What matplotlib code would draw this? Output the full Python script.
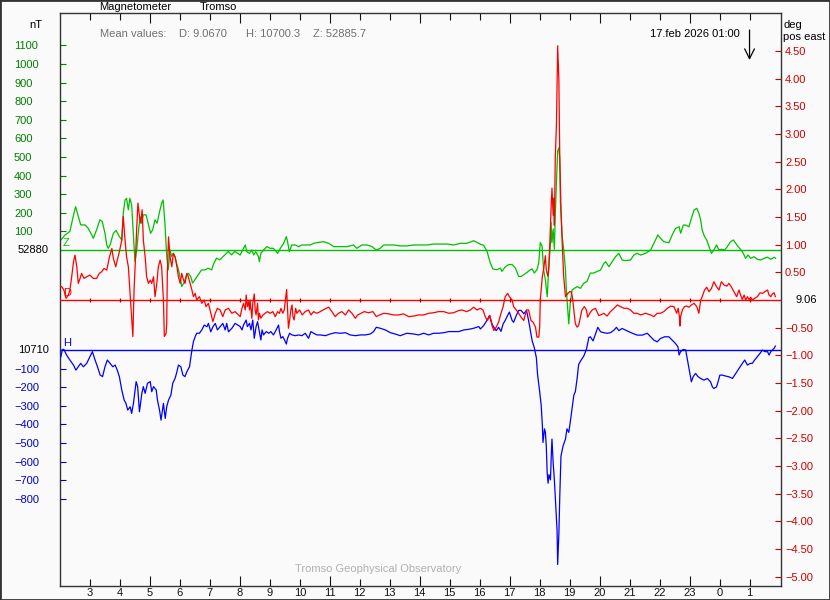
import matplotlib
matplotlib.use("Agg")
import matplotlib.pyplot as plt
from matplotlib.patches import Rectangle

plt.rcParams['font.family'] = ['Liberation Sans', 'DejaVu Sans']

# ---------------- data ----------------
title_left = "Magnetometer"
station = "Tromso"
footer = "Tromso Geophysical Observatory"
mean_D, mean_H, mean_Z = 9.0670, 10700.3, 52885.7
base_Z_label, base_H_label, base_D_label = "52880", "10710", "9.06"
date_label = "17.feb 2026 01:00"
now_hour = 25.0

hour_ticks = list(range(3, 26))
major_hours = [5, 8, 11, 14, 17, 20, 23]
minor_hours = [h for h in hour_ticks if h not in major_hours]

z_tick_vals = [100, 200, 300, 400, 500, 600, 700, 800, 900, 1000, 1100]
h_tick_vals = [-100, -200, -300, -400, -500, -600, -700, -800]
d_tick_vals = [4.5, 4.0, 3.5, 3.0, 2.5, 2.0, 1.5, 1.0, 0.5,
               -0.5, -1.0, -1.5, -2.0, -2.5, -3.0, -3.5, -4.0, -4.5, -5.0]

# Z (nT relative to 52880)
z_hours = [2.03, 2.17, 2.33, 2.44, 2.52, 2.61, 2.69, 2.83, 2.94, 3.06, 3.11, 3.22, 3.33, 3.41, 3.50,
           3.56, 3.61, 3.67, 3.78, 3.87, 3.98, 4.06, 4.11, 4.17, 4.22, 4.28, 4.33, 4.39, 4.44, 4.50,
           4.56, 4.61, 4.67, 4.72, 4.78, 4.87, 4.94, 5.02, 5.09, 5.17, 5.24, 5.31, 5.39, 5.44, 5.50,
           5.56, 5.61, 5.67, 5.72, 5.78, 5.83, 5.89, 5.98, 6.06, 6.13, 6.20, 6.28, 6.36, 6.42, 6.50,
           6.61, 6.72, 6.83, 6.94, 7.06, 7.11, 7.22, 7.33, 7.44, 7.56, 7.61, 7.72, 7.83,
           8.01, 8.12, 8.18, 8.23, 8.32, 8.40, 8.46, 8.53, 8.62, 8.65, 8.70, 8.79, 8.90, 9.01,
           9.12, 9.26, 9.35, 9.46, 9.55, 9.59, 9.65, 9.73, 9.85, 9.96, 10.07, 10.24, 10.35, 10.46,
           10.63, 10.79, 10.96, 11.13, 11.35, 11.57, 11.79, 11.90, 12.07, 12.24, 12.41, 12.55,
           12.68, 12.80, 12.96, 13.13, 13.35, 13.57, 13.80, 14.02, 14.24, 14.46, 14.69, 14.91,
           15.13, 15.36, 15.58, 15.80, 15.97,
           16.02, 16.13, 16.24, 16.35, 16.44, 16.58, 16.69, 16.74, 16.85, 16.97, 17.08, 17.19,
           17.30, 17.38, 17.47, 17.58, 17.69, 17.75, 17.82, 17.91, 17.97, 18.02, 18.08, 18.13,
           18.19, 18.25, 18.30, 18.36, 18.38, 18.41, 18.45, 18.49, 18.52, 18.56, 18.60, 18.64,
           18.67, 18.69, 18.75, 18.80, 18.86, 18.89, 18.94, 18.97, 19.02, 19.08, 19.16, 19.25,
           19.36, 19.47, 19.58, 19.69, 19.80, 19.92,
           20.03, 20.14, 20.20, 20.31, 20.42, 20.53, 20.64, 20.75, 20.86, 21.03, 21.14, 21.25,
           21.37, 21.53, 21.70, 21.81, 21.94, 22.03, 22.14, 22.31, 22.42, 22.53, 22.65, 22.70,
           22.79, 22.87, 22.98, 23.06, 23.15, 23.24, 23.31, 23.37, 23.42, 23.50, 23.57, 23.65,
           23.73, 23.81, 23.90, 23.98, 24.06, 24.17, 24.26, 24.37, 24.46, 24.54, 24.62, 24.70,
           24.79, 24.87, 24.95, 25.04, 25.15, 25.26, 25.37, 25.48, 25.60, 25.71, 25.82, 25.87]
z_nT = [54, 81, 100, 180, 233, 180, 135, 135, 117, 81, 63, 108, 162, 153, 90,
        27, 9, 27, 90, 105, 72, 54, 198, 269, 278, 216, 278, 242, 108, -62,
        1, 90, 180, 144, 189, 189, 144, 90, 108, 162, 144, 198, 251, 269, 144,
        -35, -107, 1, -35, -17, -35, -71, -125, -196, -178, -143, -125, -143, -178, -160,
        -133, -107, -107, -98, -107, -80, -44, -53, -35, -17, -8, -26, -8,
        -27, 9, 27, -9, -18, 0, -27, -9, -36, -63, -18, 0, 18, 9,
        9, -18, 9, 36, 72, 45, -9, 27, 27, 18, 27, 27, 27, 36,
        41, 45, 36, 18, 18, 18, 27, 9, 27, 27, 18, 0,
        9, 27, 27, 27, 22, 22, 27, 27, 27, 32, 32, 32,
        27, 36, 36, 50, 36,
        31, 25, -5, -69, -102, -106, -97, -115, -91, -78, -78, -97,
        -142, -142, -133, -120, -106, -102, -124, -106, -69, 40, 22, -106,
        -160, -251, -106, 40, 149, 40, 113, 4, 186, 368, 532, 550,
        496, 259, 77, 4, -106, -215, -324, -397, -288, -215, -206, -197,
        -206, -179, -169, -124, -124, -115,
        -108, -72, -63, -90, -63, -36, -18, -54, -57, -54, -27, -18,
        -27, -18, 0, 36, 81, 63, 45, 39, 81, 116, 125, 90,
        134, 134, 125, 170, 215, 224, 197, 161, 108, 72, 54, 18,
        -18, 0, 27, 0, 4, 0, 18, 45, 54, 36, 18, 4,
        -18, -45, -27, -45, -36, -50, -54, -45, -39, -50, -39, -45]

# D (degrees relative to 9.06)
d_hours = [2.03, 2.06, 2.13, 2.20, 2.28, 2.33, 2.39, 2.45, 2.50, 2.56, 2.61, 2.67, 2.72, 2.80, 2.89, 3.00,
           3.11, 3.22, 3.31, 3.39, 3.47, 3.56, 3.65, 3.73, 3.78, 3.86, 3.91, 3.98, 4.06, 4.11, 4.17,
           4.22, 4.28, 4.33, 4.39, 4.43, 4.47, 4.52, 4.56, 4.60, 4.65, 4.69, 4.74, 4.78, 4.84, 4.89,
           4.95, 5.01, 5.06, 5.12, 5.17, 5.23, 5.28, 5.34, 5.39, 5.45, 5.48, 5.54, 5.56, 5.58, 5.62,
           5.67, 5.73, 5.78, 5.84, 5.90, 5.95, 6.01, 6.06, 6.12, 6.17, 6.23, 6.28, 6.34, 6.40, 6.45,
           6.51, 6.56, 6.65, 6.73, 6.81, 6.87, 6.95, 7.03, 7.10, 7.18, 7.25, 7.34, 7.43, 7.51, 7.62,
           7.73, 7.84,
           8.01, 8.07, 8.12, 8.18, 8.21, 8.25, 8.29, 8.32, 8.34, 8.40, 8.43, 8.48, 8.51, 8.54, 8.59,
           8.62, 8.65, 8.70, 8.77, 8.84, 8.92, 9.01, 9.10, 9.18, 9.26, 9.32, 9.37, 9.43, 9.48, 9.52,
           9.56, 9.59, 9.62, 9.66, 9.70, 9.74, 9.77, 9.81, 9.86, 9.90, 9.99, 10.08, 10.18, 10.29,
           10.37, 10.46, 10.57, 10.68, 10.81, 10.96, 11.07, 11.18, 11.29, 11.40, 11.52, 11.63,
           11.74, 11.85, 11.93, 12.04, 12.15, 12.29, 12.44, 12.55, 12.66, 12.80, 12.96, 13.13,
           13.30, 13.46, 13.63, 13.80, 13.96, 14.13, 14.30, 14.46, 14.63, 14.80, 14.97, 15.13,
           15.30, 15.41, 15.56, 15.69, 15.80, 15.91,
           16.02, 16.11, 16.19, 16.26, 16.33, 16.41, 16.47, 16.55, 16.63, 16.71, 16.78, 16.85,
           16.93, 16.99, 17.08, 17.13, 17.22, 17.30, 17.38, 17.47, 17.56, 17.63, 17.71, 17.78,
           17.86, 17.91, 17.97, 18.00, 18.02, 18.06, 18.09, 18.13, 18.19, 18.22, 18.27, 18.30,
           18.34, 18.38, 18.41, 18.45, 18.47, 18.49, 18.52, 18.56, 18.58, 18.60, 18.64, 18.67,
           18.71, 18.75, 18.80, 18.86, 18.94, 19.00, 19.05, 19.09, 19.14, 19.19, 19.25, 19.30,
           19.36, 19.41, 19.49, 19.56, 19.60, 19.67, 19.75, 19.86, 19.97,
           20.03, 20.14, 20.25, 20.36, 20.48, 20.59, 20.70, 20.81, 20.92, 21.03, 21.14, 21.25,
           21.37, 21.53, 21.70, 21.81, 21.92, 22.03, 22.14, 22.26, 22.37, 22.48, 22.57, 22.62,
           22.66, 22.68, 22.70, 22.76, 22.83, 22.90, 22.98, 23.06, 23.15, 23.24, 23.31, 23.37,
           23.42, 23.50, 23.57, 23.65, 23.73, 23.81, 23.90, 23.98, 24.06, 24.15, 24.24, 24.31,
           24.39, 24.48, 24.57, 24.65, 24.70, 24.76, 24.82, 24.87, 24.93, 24.98, 25.04, 25.09,
           25.17, 25.26, 25.35, 25.43, 25.51, 25.60, 25.65, 25.71, 25.76, 25.82, 25.86]
d_deg = [0.24, 0.24, 0.18, 0.03, 0.09, 0.18, 0.42, 0.69, 0.81, 0.60, 0.30, 0.39, 0.48, 0.39, 0.42, 0.45,
         0.39, 0.39, 0.48, 0.51, 0.57, 0.54, 0.78, 0.93, 0.75, 0.60, 0.72, 0.87, 1.08, 1.51, 1.08,
         0.78, 0.60, 0.18, -0.30, -0.66, 0.18, 0.78, 1.32, 1.75, 1.51, 1.39, 1.63, 1.08, 0.78, 0.42,
         0.30, 0.36, 0.30, 0.42, 0.06, 0.30, 0.60, 0.72, 0.60, 0.0, -0.66, -0.60, -0.42, 0.48, 1.14,
         0.78, 0.60, 0.84, 0.78, 0.60, 0.42, 0.30, 0.48, 0.36, 0.30, 0.48, 0.42, 0.30, 0.18, 0.06,
         0.12, 0.0, 0.06, -0.06, 0.0, -0.12, -0.06, -0.24, -0.39, -0.24, -0.15, -0.18, -0.30, -0.18, -0.15,
         -0.24, -0.21,
         -0.30, -0.15, -0.06, -0.18, 0.09, -0.12, -0.03, -0.18, 0.0, -0.33, -0.06, 0.11, -0.18, -0.27, -0.06,
         -0.36, -0.24, -0.33, -0.27, -0.24, -0.21, -0.24, -0.21, -0.30, -0.21, -0.24, -0.15, -0.24, -0.18, 0.0,
         0.19, -0.18, -0.51, -0.36, -0.18, -0.09, -0.30, -0.36, -0.15, -0.24, -0.18, -0.27, -0.21, -0.18,
         -0.27, -0.21, -0.24, -0.21, -0.17, -0.13, -0.21, -0.30, -0.24, -0.21, -0.27, -0.18,
         -0.24, -0.33, -0.27, -0.24, -0.21, -0.23, -0.21, -0.30, -0.27, -0.24, -0.25, -0.27,
         -0.27, -0.25, -0.30, -0.29, -0.27, -0.27, -0.24, -0.23, -0.21, -0.21, -0.24, -0.23,
         -0.19, -0.18, -0.21, -0.18, -0.13, -0.18,
         -0.15, -0.18, -0.31, -0.37, -0.28, -0.46, -0.55, -0.49, -0.40, -0.24, -0.12, 0.06,
         0.12, 0.06, 0.0, -0.12, -0.18, -0.24, -0.31, -0.37, -0.18, -0.18, -0.37, -0.40,
         -0.49, -0.67, -0.67, -0.49, 0.0, 0.24, 0.43, 0.55, 0.80, 0.55, 0.43, 0.55,
         1.04, 1.65, 2.02, 1.53, 1.84, 1.35, 2.57, 3.18, 3.86, 4.59, 3.98, 2.57,
         1.65, 1.04, 0.43, 0.06, 0.12, 0.15, 0.15, 0.06, -0.18, -0.43, -0.49, -0.46,
         -0.31, -0.18, -0.12, -0.18, -0.31, -0.24, -0.18, -0.15, -0.28,
         -0.27, -0.24, -0.29, -0.21, -0.15, -0.09, -0.12, -0.15, -0.15, -0.18, -0.24, -0.24,
         -0.27, -0.24, -0.27, -0.30, -0.24, -0.24, -0.21, -0.15, -0.11, -0.12, -0.24, -0.15,
         -0.30, -0.47, -0.30, -0.18, -0.12, -0.11, -0.13, -0.09, -0.06, -0.12, -0.24, 0.0,
         0.06, 0.18, 0.23, 0.15, 0.21, 0.33, 0.24, 0.18, 0.33, 0.27, 0.25, 0.30,
         0.24, 0.15, 0.06, 0.18, 0.09, 0.01, 0.09, 0.0, 0.06, 0.01, 0.05, 0.0,
         0.03, 0.06, 0.13, 0.12, 0.15, 0.18, 0.09, 0.06, 0.11, 0.13, 0.06]

# H (nT relative to 10710)
h_hours = [2.03, 2.08, 2.13, 2.22, 2.33, 2.45, 2.53, 2.61, 2.69, 2.78, 2.89, 3.00, 3.08, 3.17, 3.25,
           3.34, 3.42, 3.50, 3.58, 3.67, 3.76, 3.84, 3.91, 3.98, 4.06, 4.14, 4.20, 4.26, 4.34, 4.39,
           4.45, 4.54, 4.59, 4.65, 4.73, 4.78, 4.84, 4.92, 5.01, 5.06, 5.12, 5.21, 5.25, 5.32, 5.37,
           5.45, 5.51, 5.56, 5.62, 5.70, 5.76, 5.84, 5.90, 5.95, 6.03, 6.10, 6.17, 6.23, 6.32, 6.40,
           6.45, 6.51, 6.56, 6.65, 6.73, 6.81, 6.90, 6.95, 7.03, 7.10, 7.18, 7.25, 7.34, 7.43, 7.51,
           7.56, 7.62, 7.73, 7.84,
           8.01, 8.07, 8.12, 8.21, 8.25, 8.32, 8.37, 8.43, 8.48, 8.54, 8.59, 8.65, 8.70, 8.74, 8.79,
           8.88, 8.96, 9.03, 9.12, 9.21, 9.29, 9.32, 9.37, 9.43, 9.49, 9.55, 9.59, 9.66, 9.74, 9.85,
           9.96, 10.07, 10.18, 10.29, 10.37, 10.46, 10.57, 10.68, 10.85, 11.01, 11.18, 11.35, 11.52,
           11.68, 11.85, 12.02, 12.18, 12.35, 12.46, 12.55, 12.68, 12.85, 13.02, 13.18, 13.35, 13.57,
           13.80, 13.96, 14.13, 14.30, 14.46, 14.63, 14.80, 14.97, 15.13, 15.30, 15.47, 15.63, 15.80,
           15.97,
           16.02, 16.13, 16.24, 16.33, 16.41, 16.47, 16.55, 16.63, 16.71, 16.78, 16.85, 16.93, 16.99,
           17.08, 17.13, 17.22, 17.30, 17.38, 17.47, 17.56, 17.63, 17.69, 17.75, 17.82, 17.89, 17.93,
           18.00, 18.05, 18.09, 18.11, 18.16, 18.19, 18.22, 18.25, 18.28, 18.31, 18.36, 18.39, 18.41,
           18.45, 18.49, 18.54, 18.58, 18.60, 18.64, 18.67, 18.71, 18.78, 18.86, 18.91, 18.97, 19.02,
           19.08, 19.14, 19.19, 19.25, 19.30, 19.36, 19.47, 19.56, 19.64, 19.69, 19.78, 19.86, 19.94,
           20.03, 20.14, 20.25, 20.36, 20.48, 20.56, 20.64, 20.75, 20.86, 20.98, 21.09, 21.25, 21.42,
           21.59, 21.70, 21.81, 21.92, 22.03, 22.17, 22.31, 22.42, 22.53, 22.61, 22.65, 22.70, 22.79,
           22.87, 22.90, 22.95, 23.01, 23.06, 23.12, 23.20, 23.28, 23.37, 23.48, 23.59, 23.70, 23.76,
           23.81, 23.90, 23.95, 24.01, 24.09, 24.20, 24.31, 24.43, 24.54, 24.65, 24.76, 24.84, 24.93,
           25.02, 25.09, 25.17, 25.26, 25.35, 25.43, 25.51, 25.60, 25.65, 25.71, 25.76, 25.82, 25.86]
h_nT = [-36, 3, 3, -27, -54, -81, -108, -90, -72, -90, -72, -36, -9, -54, -90,
        -135, -143, -90, -54, -72, -90, -81, -108, -143, -215, -269, -287, -323, -305, -341,
        -287, -170, -197, -332, -233, -197, -233, -179, -170, -224, -197, -215, -269, -323, -377,
        -287, -368, -305, -269, -242, -179, -152, -117, -81, -90, -135, -143, -117, -90, 0,
        45, 72, 90, 90, 108, 134, 125, 143, 98, 125, 143, 108, 125, 143, 108,
        143, 98, 116, 143,
        126, 108, 134, 161, 126, 143, 108, 161, 63, 126, 152, 99, 54, 108, 81,
        99, 90, 99, 81, 108, 134, 99, 63, 72, 54, 32, 63, 90, 81, 77,
        81, 77, 90, 63, 99, 90, 81, 81, 77, 86, 93, 90, 93,
        81, 77, 81, 81, 86, 99, 122, 117, 108, 93, 86, 77, 90,
        86, 81, 90, 81, 90, 90, 93, 99, 99, 99, 108, 111, 117,
        126,
        113, 131, 159, 186, 140, 122, 104, 122, 100, 140, 159, 186, 204,
        159, 149, 186, 213, 213, 195, 213, 159, 104, 49, 13, -42, -133,
        -224, -297, -406, -497, -424, -443, -516, -661, -716, -670, -698, -552, -479,
        -607, -698, -844, -971, -1153, -989, -789, -570, -516, -479, -424, -443, -388,
        -315, -242, -224, -151, -78, -60, -33, 4, 67, 71, 49, 86, 122,
        98, 93, 90, 93, 107, 122, 104, 116, 107, 98, 90, 80, 80,
        90, 71, 53, 44, 62, 71, 71, 53, 35, 18, -27, -9, 3,
        0, -27, -72, -126, -171, -143, -126, -143, -153, -162, -153, -171, -198,
        -207, -198, -171, -135, -135, -140, -144, -153, -126, -99, -72, -54, -81,
        -72, -72, -54, -36, -18, 0, -9, -9, -27, -9, 0, 9, 21]

# ---------------- layout / style ----------------
W, HP = 830, 600
L, R, T, B = 60, 781, 13, 586
pos = [L / W, 1 - B / HP, (R - L) / W, (B - T) / HP]
PX_NT = 0.186      # pixels per nT
PX_DEG = 55.37     # pixels per degree
plot_h = B - T
Z0_PX, D0_PX, H0_PX = 250, 300, 350
zlim = ((Z0_PX - B) / PX_NT, (Z0_PX - T) / PX_NT)
hlim = ((H0_PX - B) / PX_NT, (H0_PX - T) / PX_NT)
dlim = ((D0_PX - B) / PX_DEG, (D0_PX - T) / PX_DEG)
XLIM = (2.0, 2.0 + (R - L) / 29.98)

BG = '#fafafa'
GREEN, RED, BLUE = '#00c000', '#ff0000', '#0000ff'
GREEN_T, RED_T, BLUE_T = '#008000', '#cc0000', '#0000cc'
FRAME = '#333333'
FS = 8
PT = 72 / 100  # points per pixel

fig = plt.figure(figsize=(W / 100, HP / 100), dpi=100, facecolor=BG)

axZ = fig.add_axes(pos)
axZ.set_facecolor(BG)
axH = fig.add_axes(pos, sharex=axZ, frameon=False)
axH.patch.set_visible(False)
axD = fig.add_axes(pos, sharex=axZ, frameon=False)
axD.patch.set_visible(False)

axZ.set_xlim(*XLIM)
axZ.set_ylim(*zlim)
axH.set_ylim(*hlim)
axD.set_ylim(*dlim)

for s in axZ.spines.values():
    s.set_color(FRAME)
    s.set_linewidth(1.0)

# x ticks (hours)
axZ.set_xticks(major_hours, labels=[str(h % 24) for h in major_hours])
axZ.set_xticks(minor_hours, labels=[str(h % 24) for h in minor_hours], minor=True)
axZ.tick_params(axis='x', which='both', direction='in', top=True, bottom=True,
                labelbottom=True, labeltop=False, colors='#111111', width=0.8,
                pad=1.5, labelsize=FS)
axZ.tick_params(axis='x', which='major', length=10 * PT)
axZ.tick_params(axis='x', which='minor', length=7 * PT)
for a in (axH, axD):
    a.tick_params(axis='x', which='both', bottom=False, top=False,
                  labelbottom=False, labeltop=False)

# left y ticks
axZ.set_yticks(z_tick_vals, labels=[str(v) for v in z_tick_vals])
axZ.tick_params(axis='y', direction='in', length=6 * PT, width=0.8, colors=GREEN_T,
                pad=46 * PT, labelsize=FS)
for t in axZ.get_yticklabels():
    t.set_horizontalalignment('left')

axH.set_yticks(h_tick_vals, labels=['\u2212' + str(-v) for v in h_tick_vals])
axH.tick_params(axis='y', direction='in', length=6 * PT, width=0.8, colors=BLUE_T,
                pad=46 * PT, labelsize=FS, left=True, right=False)
for t in axH.get_yticklabels():
    t.set_horizontalalignment('left')

# right y ticks (declination)
axD.yaxis.tick_right()
axD.set_yticks(d_tick_vals, labels=[('\u2212' if v < 0 else '') + f"{abs(v):.2f}" for v in d_tick_vals])
axD.tick_params(axis='y', direction='in', length=6 * PT, width=0.8, colors=RED_T,
                pad=4 * PT, labelsize=FS)

# baselines
axZ.axhline(0, color=GREEN, lw=1.0)
axD.axhline(0, color=RED, lw=1.0)
axH.axhline(0, color=BLUE, lw=1.0)
axD.plot(hour_ticks, [0] * len(hour_ticks), ls='none', marker='|', ms=5 * PT,
         mew=0.9, color='#b00000')

# series
axZ.plot(z_hours, z_nT, color=GREEN, lw=0.9)
axD.plot(d_hours, d_deg, color=RED, lw=0.9)
axH.plot(h_hours, h_nT, color=BLUE, lw=0.9)

# component letters
for a, letter, col in ((axZ, 'Z', GREEN), (axD, 'D', RED), (axH, 'H', BLUE)):
    a.annotate(letter, xy=(0, 0), xycoords=a.get_yaxis_transform(),
               xytext=(3 * PT, 1.5 * PT), textcoords='offset points',
               ha='left', va='bottom', color=col, fontsize=FS)

# baseline value labels
axZ.annotate(base_Z_label, xy=(0, 0), xycoords=axZ.get_yaxis_transform(),
             xytext=(-11 * PT, 0), textcoords='offset points', ha='right',
             va='center', fontsize=FS, color='black')
axH.annotate(base_H_label, xy=(0, 0), xycoords=axH.get_yaxis_transform(),
             xytext=(-11 * PT, 0), textcoords='offset points', ha='right',
             va='center', fontsize=FS, color='black')
axD.annotate(base_D_label, xy=(1, 0), xycoords=axD.get_yaxis_transform(),
             xytext=(14 * PT, 0), textcoords='offset points', ha='left',
             va='center', fontsize=FS, color='black')

# current time arrow
axZ.annotate('', xy=(now_hour, (B - 60) / plot_h), xycoords=('data', 'axes fraction'),
             xytext=(now_hour, (B - 30) / plot_h), textcoords=('data', 'axes fraction'),
             arrowprops=dict(arrowstyle='->,head_length=0.7,head_width=0.35',
                             color='black', lw=0.9, shrinkA=0, shrinkB=0))

# header / footer texts
def ftext(x, y, s, **kw):
    kw.setdefault('fontsize', FS)
    kw.setdefault('va', 'center')
    fig.text(x / W, 1 - y / HP, s, **kw)

ftext(99, 7, title_left)
ftext(200, 7, station)
ftext(29, 25, 'nT')
ftext(100, 34, 'Mean values:', color='#707070')
ftext(179, 34, f"D: {mean_D:.4f}", color='#707070')
ftext(246, 34, f"H: {mean_H:.1f}", color='#707070')
ftext(313, 34, f"Z: {mean_Z:.1f}", color='#707070')
ftext(740, 34, date_label, ha='right')
ftext(783, 25, 'deg')
ftext(783, 37, 'pos east')
ftext(378, 569, footer, ha='center', color='#b0b0b0')

fig.add_artist(Rectangle((0, 0), 1, 1, transform=fig.transFigure, fill=False,
                         ec=FRAME, lw=2.0))

fig.savefig('out.png', dpi=100, facecolor=BG)
